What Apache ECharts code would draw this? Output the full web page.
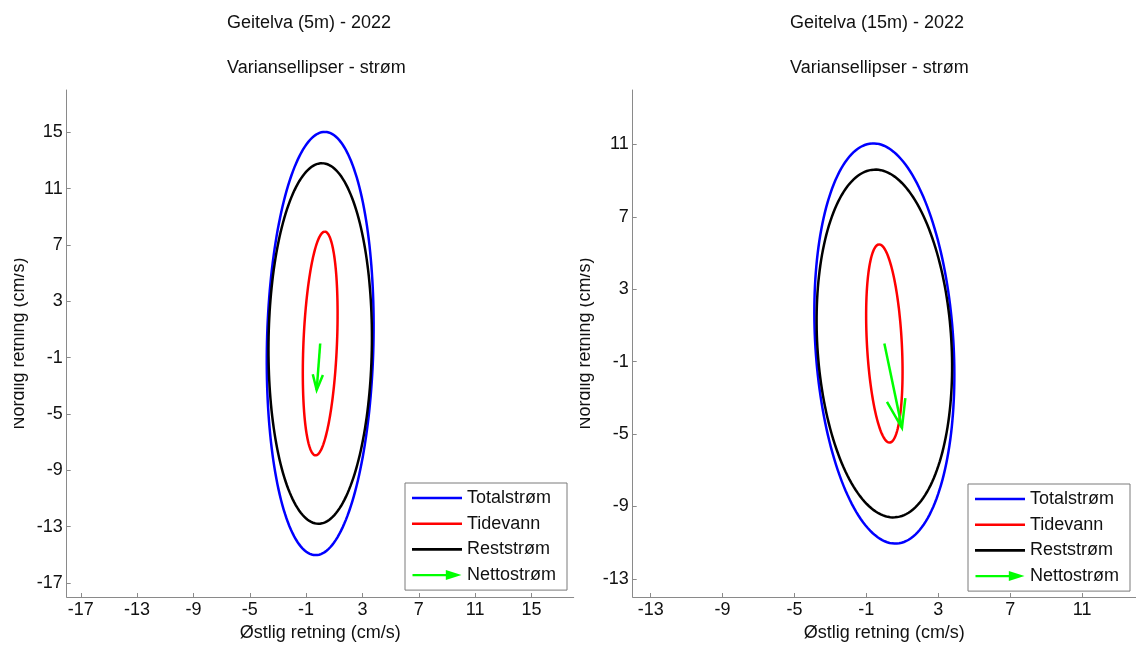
<!DOCTYPE html>
<html>
<head>
<meta charset="utf-8">
<title>Geitelva 2022 – Variansellipser</title>
<script src="https://cdn.jsdelivr.net/npm/echarts@6/dist/echarts.min.js"></script>
<style>
  html, body { margin: 0; padding: 0; background: #ffffff; }
  #chart { width: 1136px; height: 648px; }
</style>
</head>
<body>
<div id="chart"></div>
<script>
// Variance ellipses of the current at Geitelva, 5 m and 15 m depth.
const stations = ['Geitelva (5m) - 2022', 'Geitelva (15m) - 2022'];
const subtitle = 'Variansellipser - strøm';
const ellipseNames = ['Totalstrøm', 'Tidevann', 'Reststrøm'];
const ellipseColors = ['#0000ff', '#ff0000', '#000000'];
const netName = 'Nettostrøm';
const netColor = '#00ff00';

// Each ellipse: [centre east, centre north, semi-major, semi-minor, tilt (deg clockwise from north)]
const ellipses5m = [
  [0, 0, 15.03, 3.78, 1.3],
  [0, 0, 7.95, 1.19, 2.4],
  [0, 0, 12.8, 3.67, 0.6]
];
const ellipses15m = [
  [0, 0, 11.07, 3.84, -3.6],
  [0, 0, 5.48, 0.97, -3.1],
  [0, 0, 9.62, 3.73, -3.5]
];

// Net current vector: [start east, start north, east component, north component] (cm/s)
const net5m = [0, 0, -0.25, -3.3];
const net15m = [0, 0, 0.98, -4.66];

// Axis ranges and tick labels
const range5m = [-18, 18];
const range15m = [-14, 14];
const ticks5m = [-17, -13, -9, -5, -1, 3, 7, 11, 15];
const ticks15m = [-13, -9, -5, -1, 3, 7, 11];

const xName = 'Østlig retning (cm/s)';
const yName = 'Nordlig retning (cm/s)';

const FONT = "'Liberation Sans', Arial, sans-serif";
const AXIS_GREY = '#8a8a8a';

function ellipseItem(params, api) {
  const cx = api.value(0), cy = api.value(1);
  const a = api.value(2), b = api.value(3);
  const th = api.value(4) * Math.PI / 180;
  const pts = [];
  const N = 180;
  for (let i = 0; i <= N; i++) {
    const t = 2 * Math.PI * i / N;
    const dx = a * Math.cos(t) * Math.sin(th) + b * Math.sin(t) * Math.cos(th);
    const dy = a * Math.cos(t) * Math.cos(th) - b * Math.sin(t) * Math.sin(th);
    pts.push(api.coord([cx + dx, cy + dy]));
  }
  return {
    type: 'polyline',
    shape: { points: pts },
    style: { fill: null, stroke: api.visual('color'), lineWidth: 2.5 }
  };
}

function arrowItem(params, api) {
  const x0 = api.value(0), y0 = api.value(1);
  const p0 = api.coord([x0, y0]);
  const p1 = api.coord([x0 + api.value(2), y0 + api.value(3)]);
  const dx = p1[0] - p0[0], dy = p1[1] - p0[1];
  const len = Math.hypot(dx, dy);
  const ux = dx / len, uy = dy / len;
  const hl = len * 0.33, hw = hl * 0.33;
  const bx = p1[0] - ux * hl, by = p1[1] - uy * hl;
  const h1 = [bx - uy * hw, by + ux * hw];
  const h2 = [bx + uy * hw, by - ux * hw];
  const style = { fill: null, stroke: netColor, lineWidth: 2.5, lineJoin: 'miter' };
  return {
    type: 'group',
    children: [
      { type: 'polyline', shape: { points: [p0, p1] }, style: style },
      { type: 'polyline', shape: { points: [h1, p1, h2] }, style: style }
    ]
  };
}

function makeAxis(idx, range, ticks, isX) {
  return {
    type: 'value',
    gridIndex: idx,
    min: range[0],
    max: range[1],
    name: isX ? xName : yName,
    nameLocation: 'middle',
    nameGap: isX ? 26 : (idx === 0 ? 39 : 39),
    nameRotate: isX ? 0 : 90,
    nameTextStyle: { fontFamily: FONT, fontSize: 18, color: '#111', lineHeight: 18 },
    axisLine: { show: true, onZero: false, lineStyle: { color: AXIS_GREY, width: 1 } },
    axisTick: { show: true, inside: true, length: 4, customValues: ticks, lineStyle: { color: AXIS_GREY } },
    axisLabel: { show: true, customValues: ticks, margin: 4, fontFamily: FONT, fontSize: 18, color: '#111' },
    splitLine: { show: false }
  };
}

const lineIcon = 'path://M0,0H50V2.6H0Z';
const arrowIcon = 'path://M0,4H37V6.2H0Z M34,0L50,5.1L34,10.2Z';

function makeLegend(left, top) {
  return {
    left: left,
    top: top,
    orient: 'vertical',
    itemWidth: 50,
    itemHeight: 10,
    itemGap: 5.7,
    padding: [5, 11, 5, 7],
    borderColor: '#7a7a7a',
    borderWidth: 1,
    backgroundColor: '#ffffff',
    selectedMode: false,
    textStyle: { fontFamily: FONT, fontSize: 18, color: '#111', lineHeight: 20, padding: [0, 0, 0, 0] },
    data: ellipseNames.map(function (n, i) {
      return { name: n, icon: lineIcon, itemStyle: { color: ellipseColors[i], borderWidth: 0 } };
    }).concat([{ name: netName, icon: arrowIcon, itemStyle: { color: netColor, borderWidth: 0 } }])
  };
}

const series = [];
[ellipses5m, ellipses15m].forEach(function (set, g) {
  set.forEach(function (row, i) {
    series.push({
      type: 'custom',
      name: ellipseNames[i],
      xAxisIndex: g,
      yAxisIndex: g,
      renderItem: ellipseItem,
      itemStyle: { color: ellipseColors[i] },
      clip: false,
      silent: true,
      data: [row]
    });
  });
});
[net5m, net15m].forEach(function (row, g) {
  series.push({
    type: 'custom',
    name: netName,
    xAxisIndex: g,
    yAxisIndex: g,
    renderItem: arrowItem,
    itemStyle: { color: netColor },
    clip: false,
    silent: true,
    z: 5,
    data: [row]
  });
});

const titleStyle = { fontFamily: FONT, fontSize: 18, fontWeight: 'normal', color: '#111', lineHeight: 20 };

const option = {
  backgroundColor: '#ffffff',
  animation: false,
  title: [
    { text: stations[0], subtext: subtitle, left: 227, top: 13, itemGap: 25, padding: 0,
      textStyle: titleStyle, subtextStyle: titleStyle },
    { text: stations[1], subtext: subtitle, left: 790, top: 13, itemGap: 25, padding: 0,
      textStyle: titleStyle, subtextStyle: titleStyle }
  ],
  grid: [
    { left: 66.7, top: 90, width: 507, height: 507 },
    { left: 632.7, top: 90, width: 507, height: 507 }
  ],
  xAxis: [makeAxis(0, range5m, ticks5m, true), makeAxis(1, range15m, ticks15m, true)],
  yAxis: [makeAxis(0, range5m, ticks5m, false), makeAxis(1, range15m, ticks15m, false)],
  legend: [makeLegend(405, 483), makeLegend(968, 484)],
  // the vertical axis titles sit partly cut at their outer edge
  graphic: [
    { type: 'rect', left: 0, top: 235, z: 100, shape: { width: 14, height: 210 }, style: { fill: '#ffffff' }, silent: true },
    { type: 'rect', left: 575, top: 235, z: 100, shape: { width: 5, height: 210 }, style: { fill: '#ffffff' }, silent: true }
  ],
  series: series
};

const chart = echarts.init(document.getElementById('chart'), null, { renderer: 'canvas' });
chart.setOption(option);
</script>
</body>
</html>
